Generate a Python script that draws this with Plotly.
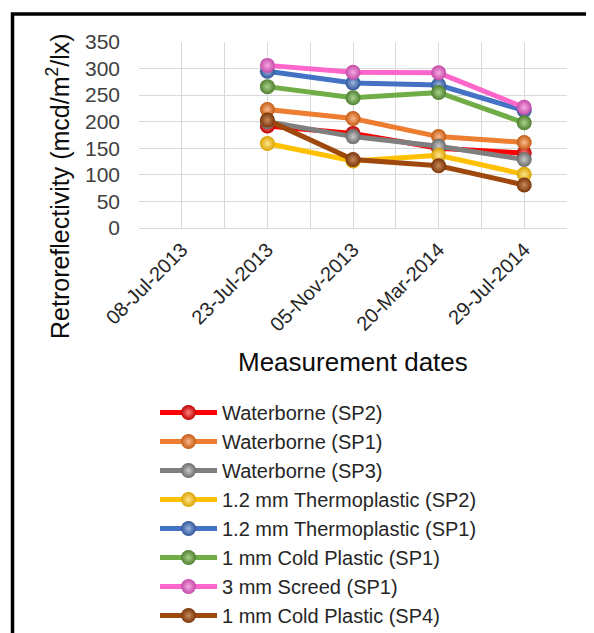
import plotly.graph_objects as go

dates = ['08-Jul-2013', '23-Jul-2013', '05-Nov-2013', '20-Mar-2014', '29-Jul-2014']

waterborne_sp2 = [None, 192, 178, 150, 141]
waterborne_sp1 = [None, 223, 206, 172, 161]
waterborne_sp3 = [None, 200, 172, 154, 129]
thermo_sp2 = [None, 159, 126, 137, 101]
thermo_sp1 = [None, 295, 273, 269, 221]
cold_sp1 = [None, 266, 245, 255, 198]
screed_sp1 = [None, 306, 293, 292, 227]
cold_sp4 = [None, 203, 129, 117, 81]

series = [
    ('Waterborne (SP2)', waterborne_sp2, '#FF0000', '#C00000', '#FF8080'),
    ('Waterborne (SP1)', waterborne_sp1, '#ED7D31', '#C55A11', '#F8B98C'),
    ('Waterborne (SP3)', waterborne_sp3, '#7F7F7F', '#6A6A6A', '#C8C8C8'),
    ('1.2 mm Thermoplastic (SP2)', thermo_sp2, '#FFC000', '#D9A300', '#FFE38A'),
    ('1.2 mm Thermoplastic (SP1)', thermo_sp1, '#4472C4', '#2F5597', '#9DB5E2'),
    ('1 mm Cold Plastic (SP1)', cold_sp1, '#70AD47', '#4E7F2E', '#A9D18E'),
    ('3 mm Screed (SP1)', screed_sp1, '#FF66CC', '#C34AA6', '#F7A8E4'),
    ('1 mm Cold Plastic (SP4)', cold_sp4, '#9E480E', '#7A3508', '#C98A5A'),
]

fig = go.Figure()

# trace cachee pour les lignes verticales au centre des categories
fig.add_trace(go.Scatter(x=dates, y=[None] * len(dates), xaxis='x2', showlegend=False,
                         hoverinfo='skip', mode='lines'))

for name, vals, lc, mc, hl in series:
    fig.add_trace(go.Scatter(
        x=dates, y=vals, name=name, mode='lines+markers',
        line=dict(color=lc, width=5),
        marker=dict(size=15, color=mc, gradient=dict(type='radial', color=hl), line=dict(width=0)),
    ))

# la page a une marge de 8px autour du graphique
off = 8
px_w, px_h = 594 - off, 633 - off
l, r, t, b = 139 - off, 27, 42 - off, 405
pw, ph = px_w - l - r, px_h - t - b


def xp(px):
    return (px - off - l) / pw


def yp(py):
    return (px_h - b - (py - off)) / ph


fig.update_layout(
    width=px_w, height=px_h,
    margin=dict(l=l, r=r, t=t, b=b, autoexpand=False),
    paper_bgcolor='white', plot_bgcolor='white',
    font=dict(family='Arial, Liberation Sans, sans-serif', color='#262626'),
    xaxis=dict(type='category', categoryorder='array', categoryarray=dates,
               range=[-0.5, 4.5], tickson='boundaries', showgrid=True, gridcolor='#D9D9D9',
               gridwidth=1, ticks='', tickangle=-45, ticklabelstandoff=5, automargin=False,
               tickfont=dict(size=20, color='#262626'), showline=False, zeroline=False),
    xaxis2=dict(type='category', categoryorder='array', categoryarray=dates,
                range=[-0.5, 4.5], overlaying='x', matches='x', showgrid=True,
                gridcolor='#D9D9D9', gridwidth=1, showticklabels=False, ticks='',
                automargin=False),
    yaxis=dict(range=[0, 350], dtick=50, showgrid=True, gridcolor='#D9D9D9', gridwidth=1,
               zeroline=True, zerolinecolor='#D9D9D9', zerolinewidth=1, ticks='',
               ticklabelstandoff=18, automargin=False,
               tickfont=dict(size=21, color='#404040')),
    legend=dict(x=xp(155), y=yp(393), xanchor='left', yanchor='top',
                font=dict(size=20, color='#262626'), itemwidth=57, tracegroupgap=0,
                bgcolor='rgba(0,0,0,0)'),
    showlegend=True,
    annotations=[
        dict(text='Retroreflectivity (mcd/m<sup>2</sup>/lx)', textangle=-90,
             x=xp(58), y=yp(186), xref='paper', yref='paper', showarrow=False,
             xanchor='center', yanchor='middle', font=dict(size=25, color='#0D0D0D')),
        dict(text='Measurement dates', x=0.5, y=yp(362), xref='paper', yref='paper',
             showarrow=False, xanchor='center', yanchor='middle',
             font=dict(size=26, color='#0D0D0D')),
    ],
    shapes=[
        dict(type='rect', xref='paper', yref='paper', x0=xp(12.5), y0=yp(14),
             x1=xp(605), y1=yp(650), line=dict(color='black', width=3.5),
             fillcolor='rgba(0,0,0,0)', layer='above'),
    ],
)

fig.write_html("out.html")
